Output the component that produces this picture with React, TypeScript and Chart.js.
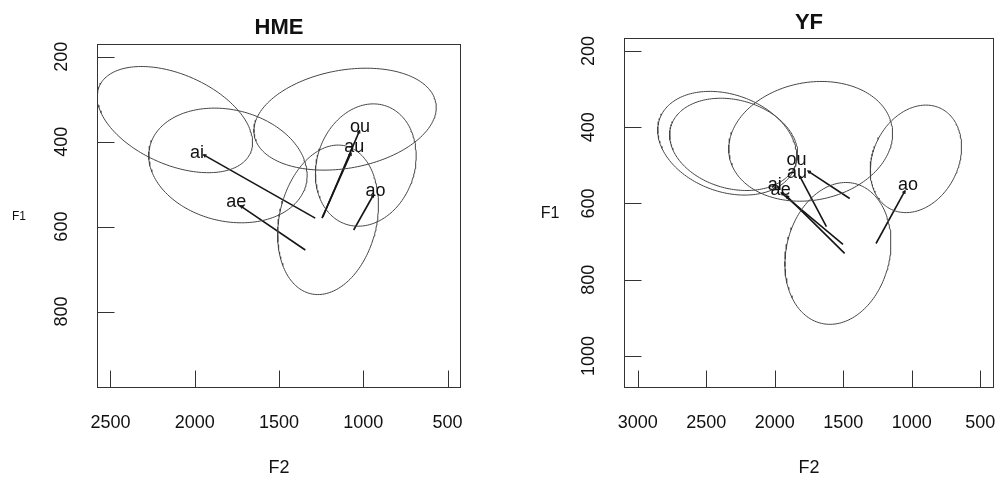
import React, { useEffect, useRef } from 'react';
import { Chart, registerables } from 'chart.js';

Chart.register(...registerables);

// ---------------- HME panel data ----------------
const hmeVowels = ['ai', 'ae', 'au', 'ou', 'ao'];
const hmeStartF2 = [1285, 1344, 1245, 1240, 1057];
const hmeStartF1 = [580, 655, 580, 577, 608];
const hmeEndF2 = [1947, 1729, 1073, 1022, 939];
const hmeEndF1 = [431, 551, 427, 374, 525];
const hmeLabelF2 = [1986, 1754, 1053, 1020, 927];
const hmeLabelF1 = [427, 542, 413, 366, 518];
// ellipses: centre, half extent along F2 / F1, correlation
const hmeEllF2 = [2118, 1803, 1108, 985, 1209];
const hmeEllF1 = [348, 456, 347, 455, 584];
const hmeEllHalfF2 = [461, 470, 541, 299, 299];
const hmeEllHalfF1 = [125, 135, 120, 144, 176];
const hmeEllR = [-0.43, -0.17, 0.23, 0.15, 0.2];
const hmeXTicks = [2500, 2000, 1500, 1000, 500];
const hmeYTicks = [200, 400, 600, 800];

// ---------------- YF panel data ----------------
const yfVowels = ['ai', 'ae', 'au', 'ou', 'ao'];
const yfStartF2 = [1502, 1490, 1623, 1453, 1261];
const yfStartF1 = [707, 731, 661, 587, 705];
const yfEndF2 = [1952, 1915, 1818, 1757, 1050];
const yfEndF1 = [572, 580, 528, 515, 567];
const yfLabelF2 = [2000, 1957, 1838, 1842, 1028];
const yfLabelF1 = [552, 565, 522, 486, 553];
const yfEllF2 = [2347, 2300, 1738, 970, 1539];
const yfEllF1 = [442, 445, 437, 483, 731];
const yfEllHalfF2 = [507, 467, 598, 333, 387];
const yfEllHalfF1 = [136, 121, 157, 141, 186];
const yfEllR = [-0.25, -0.2, 0.13, 0.22, 0.15];
const yfXTicks = [3000, 2500, 2000, 1500, 1000, 500];
const yfYTicks = [200, 400, 600, 800, 1000];

const FONT = '"Liberation Sans", Arial, Helvetica, sans-serif';

interface Panel {
  title: string;
  xMin: number; xMax: number; yMin: number; yMax: number;
  xTicks: number[]; yTicks: number[];
  vowels: string[];
  sF2: number[]; sF1: number[]; eF2: number[]; eF1: number[];
  lF2: number[]; lF1: number[];
  cF2: number[]; cF1: number[]; hF2: number[]; hF1: number[]; r: number[];
  pad: { left: number; right: number; top: number; bottom: number };
  f1X: number; f1Size: number; titleOffset: number;
}

const panels: Panel[] = [
  {
    title: 'HME', xMin: 420, xMax: 2580, yMin: 170, yMax: 980,
    xTicks: hmeXTicks, yTicks: hmeYTicks, vowels: hmeVowels,
    sF2: hmeStartF2, sF1: hmeStartF1, eF2: hmeEndF2, eF1: hmeEndF1,
    lF2: hmeLabelF2, lF1: hmeLabelF1,
    cF2: hmeEllF2, cF1: hmeEllF1, hF2: hmeEllHalfF2, hF1: hmeEllHalfF1, r: hmeEllR,
    pad: { left: 97, right: 37, top: 44, bottom: 89 },
    f1X: 19, f1Size: 12, titleOffset: 16,
  },
  {
    title: 'YF', xMin: 400, xMax: 3100, yMin: 166, yMax: 1084,
    xTicks: yfXTicks, yTicks: yfYTicks, vowels: yfVowels,
    sF2: yfStartF2, sF1: yfStartF1, eF2: yfEndF2, eF1: yfEndF1,
    lF2: yfLabelF2, lF1: yfLabelF1,
    cF2: yfEllF2, cF1: yfEllF1, hF2: yfEllHalfF2, hF1: yfEllHalfF1, r: yfEllR,
    pad: { left: 126, right: 2, top: 38, bottom: 89 },
    f1X: 52, f1Size: 16, titleOffset: 15,
  },
];

function ellipsePoints(cx: number, cy: number, hx: number, hy: number, r: number) {
  const pts: { x: number; y: number }[] = [];
  const n = 180;
  const s = Math.sqrt(1 - r * r);
  for (let i = 0; i <= n; i++) {
    const t = (i / n) * Math.PI * 2;
    pts.push({ x: cx + hx * Math.cos(t), y: cy + hy * (r * Math.cos(t) + s * Math.sin(t)) });
  }
  return pts;
}

function buildChart(canvas: HTMLCanvasElement, p: Panel) {
  const datasets: any[] = [];
  p.cF2.forEach((c, i) => {
    datasets.push({
      data: ellipsePoints(c, p.cF1[i], p.hF2[i], p.hF1[i], p.r[i]),
      showLine: true, borderColor: '#444444', borderWidth: 1, pointRadius: 0, tension: 0,
    });
  });
  p.vowels.forEach((_, i) => {
    datasets.push({
      data: [{ x: p.sF2[i], y: p.sF1[i] }, { x: p.eF2[i], y: p.eF1[i] }],
      showLine: true, borderColor: '#151515', borderWidth: 1.6, pointRadius: 0, tension: 0,
    });
  });

  const decor = {
    id: 'decor',
    afterDraw(chart: any) {
      const { ctx, chartArea: a } = chart;
      const xs = chart.scales.x;
      const ys = chart.scales.y;
      ctx.save();
      // vowel arrowheads (small)
      ctx.strokeStyle = '#151515';
      ctx.lineWidth = 1.2;
      p.vowels.forEach((v, i) => {
        const x1 = xs.getPixelForValue(p.sF2[i]);
        const y1 = ys.getPixelForValue(p.sF1[i]);
        const x2 = xs.getPixelForValue(p.eF2[i]);
        const y2 = ys.getPixelForValue(p.eF1[i]);
        const ang = Math.atan2(y2 - y1, x2 - x1);
        const L = 3;
        ctx.beginPath();
        ctx.moveTo(x2 - L * Math.cos(ang - 0.5), y2 - L * Math.sin(ang - 0.5));
        ctx.lineTo(x2, y2);
        ctx.lineTo(x2 - L * Math.cos(ang + 0.5), y2 - L * Math.sin(ang + 0.5));
        ctx.stroke();
      });
      // vowel labels
      ctx.fillStyle = '#111';
      ctx.font = `18px ${FONT}`;
      ctx.textAlign = 'center';
      ctx.textBaseline = 'alphabetic';
      p.vowels.forEach((v, i) => {
        const lx = xs.getPixelForValue(p.lF2[i]);
        const ly = ys.getPixelForValue(p.lF1[i]);
        ctx.fillText(v, lx, ly + 4.7);
      });

      // box
      ctx.strokeStyle = '#333';
      ctx.lineWidth = 1;
      ctx.strokeRect(Math.round(a.left) + 0.5, Math.round(a.top) + 0.5,
        Math.round(a.right - a.left) - 1, Math.round(a.bottom - a.top) - 1);
      // ticks inward
      const tl = 17.5;
      ctx.beginPath();
      xs.ticks.forEach((t: any) => {
        const px = Math.round(xs.getPixelForValue(t.value)) + 0.5;
        ctx.moveTo(px, a.bottom);
        ctx.lineTo(px, a.bottom - tl);
      });
      ys.ticks.forEach((t: any) => {
        const py = Math.round(ys.getPixelForValue(t.value)) + 0.5;
        ctx.moveTo(a.left, py);
        ctx.lineTo(a.left + tl, py);
      });
      ctx.stroke();
      // tick labels
      ctx.fillStyle = '#111';
      ctx.font = `18px ${FONT}`;
      ctx.textAlign = 'center';
      ctx.textBaseline = 'middle';
      xs.ticks.forEach((t: any) => {
        ctx.fillText(String(t.value), xs.getPixelForValue(t.value), a.bottom + 35.5);
      });
      ys.ticks.forEach((t: any) => {
        ctx.save();
        ctx.translate(a.left - 34.5, ys.getPixelForValue(t.value));
        ctx.rotate(-Math.PI / 2);
        ctx.fillText(String(t.value), 0, 0);
        ctx.restore();
      });
      // title and axis titles
      ctx.font = `bold 22px ${FONT}`;
      ctx.fillText(p.title, (a.left + a.right) / 2, a.top - p.titleOffset);
      ctx.font = `18px ${FONT}`;
      ctx.fillText('F2', (a.left + a.right) / 2, a.bottom + 80.5);
      ctx.font = `${p.f1Size}px ${FONT}`;
      ctx.fillText('F1', p.f1X, (a.top + a.bottom) / 2 + 1);
      ctx.restore();
    },
  };

  return new Chart(canvas, {
    type: 'scatter',
    data: { datasets },
    options: {
      responsive: false,
      animation: false,
      devicePixelRatio: 1,
      layout: { padding: p.pad },
      plugins: { legend: { display: false }, tooltip: { enabled: false }, title: { display: false } },
      scales: {
        x: {
          type: 'linear', display: false, reverse: true, min: p.xMin, max: p.xMax,
          afterBuildTicks: (s: any) => { s.ticks = p.xTicks.map((v) => ({ value: v })); },
        },
        y: {
          type: 'linear', display: false, reverse: true, min: p.yMin, max: p.yMax,
          afterBuildTicks: (s: any) => { s.ticks = p.yTicks.map((v) => ({ value: v })); },
        },
      },
    } as any,
    plugins: [decor],
  });
}

function PanelChart({ panel, left }: { panel: Panel; left: number }) {
  const ref = useRef<HTMLCanvasElement>(null);
  useEffect(() => {
    if (!ref.current) return;
    const c = buildChart(ref.current, panel);
    return () => c.destroy();
  }, [panel]);
  return (
    <canvas ref={ref} width={498} height={477}
      style={{ position: 'absolute', left, top: 0, width: 498, height: 477 }} />
  );
}

export default function App() {
  return (
    <div style={{ position: 'fixed', left: 0, top: 0, width: 996, height: 477, background: '#fff' }}>
      <PanelChart panel={panels[0]} left={0} />
      <PanelChart panel={panels[1]} left={498} />
    </div>
  );
}
